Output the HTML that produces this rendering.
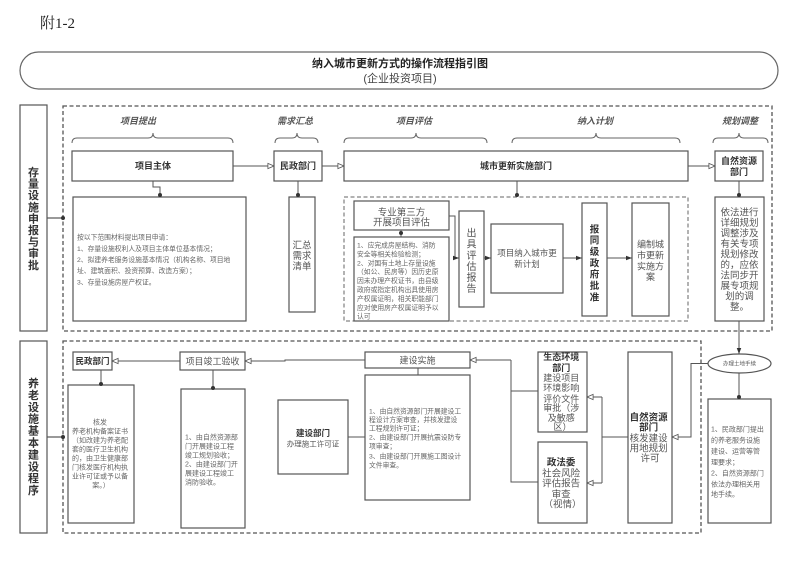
<!DOCTYPE html>
<html><head><meta charset="utf-8">
<style>
html,body{margin:0;padding:0;background:#fff;}
svg{display:block;}
text{font-family:"Liberation Sans","Noto Sans CJK SC",sans-serif;}
.b{font-weight:bold;fill:#333;}
.n{fill:#555;}
.s{fill:#666;}
.h{font-weight:bold;font-style:italic;fill:#555;font-size:9px;}
</style></head>
<body>
<svg width="800" height="566" viewBox="0 0 800 566" xmlns="http://www.w3.org/2000/svg">
<defs>
<marker id="oa" viewBox="0 0 8 8" refX="7.5" refY="4" markerWidth="7" markerHeight="7" markerUnits="userSpaceOnUse" orient="auto">
<path d="M0.5,1 L7.5,4 L0.5,7 z" fill="#fff" stroke="#555" stroke-width="1"/>
</marker>
<marker id="fa" viewBox="0 0 8 8" refX="8" refY="4" markerWidth="6" markerHeight="6" markerUnits="userSpaceOnUse" orient="auto">
<path d="M0,1 L8,4 L0,7 z" fill="#333"/>
</marker>
</defs>

<text x="40" y="28" style="font-family:'Liberation Serif','Noto Serif CJK SC',serif;font-size:15px;fill:#222;">附1-2</text>

<rect x="20" y="52" width="758" height="37" rx="18.5" fill="#fff" stroke="#666" stroke-width="1.2"/>
<text x="400" y="67" text-anchor="middle" font-size="11" class="b" style="fill:#222">纳入城市更新方式的操作流程指引图</text>
<text x="400" y="82" text-anchor="middle" font-size="11" fill="#444">(企业投资项目)</text>

<g fill="none" stroke="#555" stroke-width="1.2">
<!-- top section -->
<rect x="20" y="105" width="27" height="226"/>
<rect x="63" y="106" width="709" height="225" stroke-dasharray="4 2.5" stroke-width="1.3"/>
<line x1="47" y1="218" x2="63" y2="218"/>
<rect x="72" y="151" width="161" height="30"/>
<rect x="274" y="151" width="48" height="30"/>
<rect x="344" y="151" width="344" height="30"/>
<rect x="715" y="151" width="48" height="30"/>
<line x1="233" y1="166" x2="274" y2="166" marker-end="url(#oa)" stroke-width="1"/>
<line x1="322" y1="166" x2="344" y2="166" marker-end="url(#oa)" stroke-width="1"/>
<line x1="688" y1="166" x2="715" y2="166" marker-end="url(#oa)" stroke-width="1"/>
<rect x="73" y="197" width="173" height="124"/>
<path d="M153,181 V187 H160 V197" stroke-width="1"/>
<rect x="289" y="197" width="26" height="115"/>
<line x1="298" y1="181" x2="298" y2="197" stroke-width="1"/>
<rect x="344" y="197" width="344" height="124" stroke-dasharray="4 2.5" stroke="#666" stroke-width="1"/>
<line x1="517" y1="181" x2="517" y2="197" stroke-width="1"/>
<rect x="354" y="201" width="95" height="29"/>
<line x1="401" y1="230" x2="401" y2="237" stroke-width="1"/>
<rect x="354" y="237" width="95" height="84"/>
<path d="M449,216 H455 V258 H459" stroke-width="1" marker-end="url(#fa)"/>
<rect x="459" y="211" width="25" height="96"/>
<line x1="484" y1="258" x2="491" y2="258" stroke-width="1" marker-end="url(#fa)"/>
<rect x="491" y="224" width="72" height="69"/>
<line x1="563" y1="258" x2="582" y2="258" stroke-width="1" marker-end="url(#fa)"/>
<rect x="582" y="203" width="25" height="113"/>
<line x1="607" y1="258" x2="632" y2="258" stroke-width="1" marker-end="url(#fa)"/>
<rect x="632" y="203" width="37" height="113"/>
<rect x="715" y="197" width="49" height="124"/>
<line x1="739" y1="181" x2="739" y2="197" stroke-width="1"/>
<line x1="739" y1="321" x2="739" y2="354" stroke-width="1" marker-end="url(#fa)"/>

<!-- braces -->
<g stroke="#666" stroke-width="1">
<path d="M72,143 Q72,138 77,138 L148,138 Q153,138 153,133 Q153,138 158,138 L228,138 Q233,138 233,143"/>
<path d="M275,143 Q275,138 280,138 L292,138 Q297,138 297,133 Q297,138 302,138 L313,138 Q318,138 318,143"/>
<path d="M344,143 Q344,138 349,138 L411,138 Q416,138 416,133 Q416,138 421,138 L482,138 Q487,138 487,143"/>
<path d="M512,143 Q512,138 517,138 L591,138 Q596,138 596,133 Q596,138 601,138 L675,138 Q680,138 680,143"/>
<path d="M713,143 Q713,138 718,138 L734,138 Q739,138 739,133 Q739,138 744,138 L763,138 Q768,138 768,143"/>
</g>

<!-- bottom section -->
<rect x="20" y="341" width="27" height="192"/>
<rect x="63" y="341" width="638" height="192" stroke-dasharray="4 2.5" stroke-width="1.3"/>
<line x1="47" y1="437" x2="63" y2="437"/>
<rect x="73" y="352" width="39" height="18"/>
<line x1="180" y1="361" x2="112" y2="361" stroke-width="1" marker-end="url(#oa)"/>
<rect x="180" y="352" width="65" height="18"/>
<path d="M365,360 H285 V361 H245" stroke-width="1" marker-end="url(#oa)"/>
<rect x="365" y="352" width="105" height="16"/>
<path d="M511,360 H470" stroke-width="1" marker-end="url(#oa)"/>
<path d="M538,391 H511 V482 H538 M511,360 V391" stroke-width="1"/>
<rect x="538" y="352" width="49" height="80"/>
<rect x="538" y="442" width="49" height="81"/>
<line x1="602" y1="397" x2="587" y2="397" stroke-width="1" marker-end="url(#oa)"/>
<line x1="602" y1="483" x2="587" y2="483" stroke-width="1" marker-end="url(#oa)"/>
<path d="M602,397 V483 M628,437 H602" stroke-width="1"/>
<rect x="628" y="352" width="44" height="171"/>
<ellipse cx="739.5" cy="363.5" rx="31.5" ry="9.5"/>
<path d="M708,363.5 H691 V437 H672" stroke-width="1" marker-end="url(#oa)"/>
<line x1="739" y1="373" x2="739" y2="399" stroke-width="1"/>
<rect x="708" y="399" width="63" height="124"/>
<rect x="68" y="385" width="66" height="138"/>
<line x1="101" y1="370" x2="101" y2="385" stroke-width="1"/>
<rect x="181" y="389" width="64" height="139"/>
<line x1="213" y1="370" x2="213" y2="389" stroke-width="1"/>
<rect x="365" y="375" width="105" height="125"/>
<line x1="418" y1="368" x2="418" y2="375" stroke-width="1"/>
<rect x="278" y="400" width="70" height="74"/>
<line x1="348" y1="437" x2="365" y2="437" stroke-width="1"/>
</g>

<!-- dots -->
<g fill="#333">
<circle cx="63" cy="218" r="2"/>
<circle cx="160" cy="195" r="2"/>
<circle cx="298" cy="195" r="2"/>
<circle cx="517" cy="195" r="2"/>
<circle cx="401" cy="233" r="2"/>
<circle cx="739" cy="195" r="2"/>
<circle cx="63" cy="437" r="2"/>
<circle cx="101" cy="384" r="2"/>
<circle cx="213" cy="388" r="2"/>
<circle cx="739" cy="397" r="2"/>
</g>

<!-- section headers -->
<text class="h" x="138" y="124" text-anchor="middle">项目提出</text>
<text class="h" x="295" y="124" text-anchor="middle">需求汇总</text>
<text class="h" x="414" y="124" text-anchor="middle">项目评估</text>
<text class="h" x="595" y="124" text-anchor="middle">纳入计划</text>
<text class="h" x="740" y="124" text-anchor="middle">规划调整</text>

<!-- vertical labels -->
<text class="b" font-size="11" text-anchor="middle">
<tspan x="33.5" y="176">存</tspan><tspan x="33.5" y="187.6">量</tspan><tspan x="33.5" y="199.2">设</tspan><tspan x="33.5" y="210.8">施</tspan><tspan x="33.5" y="222.4">申</tspan><tspan x="33.5" y="234">报</tspan><tspan x="33.5" y="245.6">与</tspan><tspan x="33.5" y="257.2">审</tspan><tspan x="33.5" y="268.8">批</tspan>
</text>
<text class="b" font-size="11" text-anchor="middle">
<tspan x="33.5" y="387">养</tspan><tspan x="33.5" y="398.9">老</tspan><tspan x="33.5" y="410.8">设</tspan><tspan x="33.5" y="422.7">施</tspan><tspan x="33.5" y="434.6">基</tspan><tspan x="33.5" y="446.5">本</tspan><tspan x="33.5" y="458.4">建</tspan><tspan x="33.5" y="470.3">设</tspan><tspan x="33.5" y="482.2">程</tspan><tspan x="33.5" y="494.1">序</tspan>
</text>

<!-- top row texts -->
<text class="b" font-size="9" x="153" y="169" text-anchor="middle">项目主体</text>
<text class="b" font-size="9" x="298" y="169" text-anchor="middle">民政部门</text>
<text class="b" font-size="9" x="516" y="169" text-anchor="middle">城市更新实施部门</text>
<text class="b" font-size="9" text-anchor="middle"><tspan x="739" y="164">自然资源</tspan><tspan x="739" y="175">部门</tspan></text>

<text class="s" font-size="6.8">
<tspan x="77" y="239.5">按以下范围材料提出项目申请：</tspan>
<tspan x="77" y="251">1、存量设施权利人及项目主体单位基本情况；</tspan>
<tspan x="77" y="262">2、拟建养老服务设施基本情况（机构名称、项目地</tspan>
<tspan x="77" y="273">址、建筑面积、投资预算、改造方案）；</tspan>
<tspan x="77" y="284.5">3、存量设施房屋产权证。</tspan>
</text>

<text class="n" font-size="9.5" text-anchor="middle"><tspan x="302" y="248.5">汇总</tspan><tspan x="302" y="259">需求</tspan><tspan x="302" y="269.5">清单</tspan></text>

<text class="n" font-size="9.5" text-anchor="middle"><tspan x="401.5" y="215.5">专业第三方</tspan><tspan x="401.5" y="225.5">开展项目评估</tspan></text>

<text class="s" font-size="6.8">
<tspan x="357" y="247.5">1、应完成房屋结构、消防</tspan>
<tspan x="357" y="256.4">安全等相关检验检测；</tspan>
<tspan x="357" y="265.3">2、对国有土地上存量设施</tspan>
<tspan x="357" y="274.2">（如公、民房等）因历史原</tspan>
<tspan x="357" y="283.1">因未办理产权证书，由县级</tspan>
<tspan x="357" y="292">政府或指定机构出具使用房</tspan>
<tspan x="357" y="300.9">产权属证明，相关职能部门</tspan>
<tspan x="357" y="309.8">应对使用房产权属证明予以</tspan>
<tspan x="357" y="318.7">认可</tspan>
</text>

<text class="n" font-size="10" text-anchor="middle">
<tspan x="471.5" y="236.5">出</tspan><tspan x="471.5" y="247.5">具</tspan><tspan x="471.5" y="259">评</tspan><tspan x="471.5" y="270">估</tspan><tspan x="471.5" y="281">报</tspan><tspan x="471.5" y="292">告</tspan>
</text>

<text class="n" font-size="8.5" text-anchor="middle"><tspan x="527" y="256">项目纳入城市更</tspan><tspan x="527" y="267">新计划</tspan></text>

<text class="b" font-size="9.5" text-anchor="middle">
<tspan x="594.5" y="232.3">报</tspan><tspan x="594.5" y="243.6">同</tspan><tspan x="594.5" y="254.9">级</tspan><tspan x="594.5" y="266.3">政</tspan><tspan x="594.5" y="277.6">府</tspan><tspan x="594.5" y="288.9">批</tspan><tspan x="594.5" y="300.3">准</tspan>
</text>

<text class="n" font-size="9" text-anchor="middle"><tspan x="650.5" y="247.5">编制城</tspan><tspan x="650.5" y="258.5">市更新</tspan><tspan x="650.5" y="269.5">实施方</tspan><tspan x="650.5" y="280">案</tspan></text>

<text class="n" font-size="9.5" text-anchor="middle">
<tspan x="739.5" y="215.5">依法进行</tspan><tspan x="739.5" y="226">详细规划</tspan><tspan x="739.5" y="236.5">调整涉及</tspan><tspan x="739.5" y="247">有关专项</tspan><tspan x="739.5" y="257.5">规划修改</tspan><tspan x="739.5" y="268">的，应依</tspan><tspan x="739.5" y="278.5">法同步开</tspan><tspan x="739.5" y="289">展专项规</tspan><tspan x="739.5" y="299.5">划的调</tspan><tspan x="739.5" y="310">整。</tspan>
</text>

<!-- bottom texts -->
<text class="b" font-size="8.5" x="92.5" y="364" text-anchor="middle">民政部门</text>
<text class="n" font-size="9" x="212.5" y="364.5" text-anchor="middle">项目竣工验收</text>
<text class="n" font-size="9" x="417.5" y="363.5" text-anchor="middle">建设实施</text>

<text class="s" font-size="7" text-anchor="middle">
<tspan x="101" y="424.5">核发</tspan>
<tspan x="101" y="433.5">养老机构备案证书</tspan>
<tspan x="101" y="442.5">（如改建为养老配</tspan>
<tspan x="101" y="451.5">套的医疗卫生机构</tspan>
<tspan x="101" y="460.5">的，由卫生健康部</tspan>
<tspan x="101" y="469.5">门核发医疗机构执</tspan>
<tspan x="101" y="478.5">业许可证或予以备</tspan>
<tspan x="101" y="487.5">案。）</tspan>
</text>

<text class="s" font-size="7">
<tspan x="185" y="439.5">1、由自然资源部</tspan>
<tspan x="185" y="448.5">门开展建设工程</tspan>
<tspan x="185" y="457.5">竣工规划验收；</tspan>
<tspan x="185" y="466.5">2、由建设部门开</tspan>
<tspan x="185" y="475.5">展建设工程竣工</tspan>
<tspan x="185" y="484.5">消防验收。</tspan>
</text>

<text class="b" font-size="8.5" x="313" y="436" text-anchor="middle">建设部门</text>
<text class="n" font-size="7.5" x="313" y="446.5" text-anchor="middle">办理施工许可证</text>

<text class="s" font-size="6.8">
<tspan x="369" y="413.5">1、由自然资源部门开展建设工</tspan>
<tspan x="369" y="422">程设计方案审查，并核发建设</tspan>
<tspan x="369" y="430.5">工程规划许可证；</tspan>
<tspan x="369" y="439.5">2、由建设部门开展抗震设防专</tspan>
<tspan x="369" y="448.5">项审查；</tspan>
<tspan x="369" y="458.5">3、由建设部门开展施工图设计</tspan>
<tspan x="369" y="467.5">文件审查。</tspan>
</text>

<text font-size="9" text-anchor="middle">
<tspan x="562.5" y="360" class="b">生态环境</tspan>
<tspan x="562.5" y="371" class="b">部门</tspan>
<tspan x="562.5" y="381" class="n">建设项目</tspan>
<tspan x="562.5" y="391" class="n">环境影响</tspan>
<tspan x="562.5" y="402" class="n">评价文件</tspan>
<tspan x="562.5" y="411" class="n">审批（涉</tspan>
<tspan x="562.5" y="421" class="n">及敏感</tspan>
<tspan x="562.5" y="430" class="n">区）</tspan>
</text>

<text font-size="9.5" text-anchor="middle">
<tspan x="562.5" y="465.5" class="b">政法委</tspan>
<tspan x="562.5" y="476.5" class="n">社会风险</tspan>
<tspan x="562.5" y="486.5" class="n">评估报告</tspan>
<tspan x="562.5" y="497.5" class="n">审查</tspan>
<tspan x="562.5" y="507.5" class="n">（视情）</tspan>
</text>

<text font-size="9.5" text-anchor="middle">
<tspan x="650" y="420.5" class="b">自然资源</tspan>
<tspan x="650" y="430.5" class="b">部门</tspan>
<tspan x="650" y="441.5" class="n">核发建设</tspan>
<tspan x="650" y="451.5" class="n">用地规划</tspan>
<tspan x="650" y="461.5" class="n">许可</tspan>
</text>

<text class="n" font-size="5.5" x="739.5" y="365.5" text-anchor="middle">办理土地手续</text>

<text class="s" font-size="7">
<tspan x="711" y="431.5">1、民政部门提出</tspan>
<tspan x="711" y="442.5">的养老服务设施</tspan>
<tspan x="711" y="453.5">建设、运营等管</tspan>
<tspan x="711" y="464.5">理要求；</tspan>
<tspan x="711" y="475.5">2、自然资源部门</tspan>
<tspan x="711" y="486.5">依法办理相关用</tspan>
<tspan x="711" y="496.5">地手续。</tspan>
</text>
</svg>
</body></html>
